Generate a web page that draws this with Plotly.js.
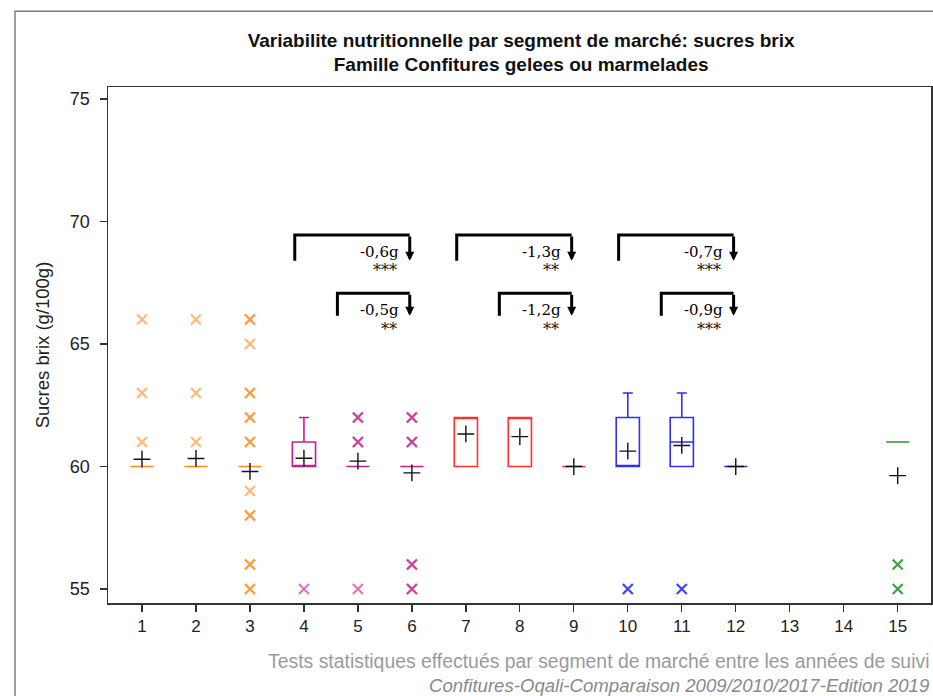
<!DOCTYPE html>
<html>
<head>
<meta charset="utf-8">
<script src="https://cdn.plot.ly/plotly-3.0.1.min.js"></script>
<style>html,body{margin:0;padding:0;background:#fff;}#chart{width:933px;height:696px;}</style>
</head>
<body>
<div id="chart"></div>
<script>
// ---- data ----
const categories = [1,2,3,4,5,6,7,8,9,10,11,12,13,14,15];
const segment    = ['A','A','A','B','B','B','C','C','C','D','D','D',null,null,'E'];
const q1         = [60,60,60,60,60,60,60,60,60,60,60,60,null,null,61];
const median     = [60,60,60,60,60,60,62,62,60,60,61,60,null,null,61];
const q3         = [60,60,60,61,60,60,62,62,60,62,62,60,null,null,61];
const lowerFence = [60,60,60,60,60,60,60,60,60,60,60,60,null,null,61];
const upperFence = [60,60,60,62,60,60,62,62,60,63,63,60,null,null,61];
const means      = [60.3,60.33,59.8,60.34,60.22,59.74,61.33,61.22,60.0,60.63,60.86,60.0,null,null,59.63];

// outliers (repeated values = several products at the same value)
const outlierX = [1,1,1, 2,2,2,
  3,3,3,3,3,3,3,3,3,3,3,3,3,3,3,3,
  4, 5,5,5,5,5, 6,6,6,6,6,6,6,6,
  10, 11, 15,15];
const outlierY = [66,63,61, 66,63,61,
  66,66,65,63,63,62,62,61,61,59,58,58,56,56,55,55,
  55, 62,62,61,61,55, 62,62,61,61,56,56,55,55,
  55, 55, 56,55];

// statistical comparisons between years
const cmpFrom = [4,5,7,8,10,11];
const cmpTo   = [6,6,9,9,12,12];
const cmpDiff = ['-0,6g','-0,5g','-1,3g','-1,2g','-0,7g','-0,9g'];
const cmpSig  = ['***','**','**','**','***','***'];

const xTicks = [1,2,3,4,5,6,7,8,9,10,11,12,13,14,15];
const yTicks = [55,60,65,70,75];

const titleText = 'Variabilite nutritionnelle par segment de marché: sucres brix<br>Famille Confitures gelees ou marmelades';
const yTitle = 'Sucres brix (g/100g)';
const footer1 = 'Tests statistiques effectués par segment de marché entre les années de suivi';
const footer2 = 'Confitures-Oqali-Comparaison 2009/2010/2017-Edition 2019';

// ---- styles ----
const segColor = {A:'#FF8C1A', B:'#C71E8A', C:'#FF3030', D:'#2E2EFF', E:'#2A9A2A'};
const segOpacity = {A:0.6, B:0.6, C:0.9, D:0.9, E:0.9};
const SANS = 'Liberation Sans, Arial, sans-serif';
const SERIF = 'DejaVu Serif, serif';

const traces = [];
Object.keys(segColor).forEach(function(s){
  const idx = categories.map(function(c,i){return i;}).filter(function(i){return segment[i]===s;});
  traces.push({
    type:'box',
    x: idx.map(function(i){return categories[i];}),
    q1: idx.map(function(i){return q1[i];}),
    median: idx.map(function(i){return median[i];}),
    q3: idx.map(function(i){return q3[i];}),
    lowerfence: idx.map(function(i){return lowerFence[i];}),
    upperfence: idx.map(function(i){return upperFence[i];}),
    boxpoints:false,
    width:0.43,
    whiskerwidth:0.43,
    fillcolor:'rgba(255,255,255,0)',
    line:{color:segColor[s], width:1.6},
    hoverinfo:'skip',
    showlegend:false
  });
  const ox = [], oy = [];
  outlierX.forEach(function(x,k){
    if (segment[categories.indexOf(x)]===s){ ox.push(x); oy.push(outlierY[k]); }
  });
  traces.push({
    type:'scatter', mode:'markers', x:ox, y:oy,
    marker:{symbol:'x-thin', size:10, opacity:segOpacity[s], line:{color:segColor[s], width:2.2}},
    hoverinfo:'skip', showlegend:false
  });
});
traces.push({
  type:'scatter', mode:'markers',
  x: categories.filter(function(c,i){return means[i]!==null;}),
  y: means.filter(function(m){return m!==null;}),
  marker:{symbol:'cross-thin', size:12, line:{color:'#111', width:1.4}},
  hoverinfo:'skip', showlegend:false
});

// bracket geometry (style)
const rowTop = [69.45, 67.07];
const rowLow = [68.4, 66.15];
const leftOff = [0.17, 0.38];
const rightOff = 0.04;

const shapes = [];
const annotations = [];
cmpFrom.forEach(function(f,i){
  const r = i % 2;
  const x0 = f - leftOff[r];
  const x1 = cmpTo[i] - rightOff;
  shapes.push({type:'path', xref:'x', yref:'y',
    path:'M'+x0+','+rowLow[r]+' L'+x0+','+rowTop[r]+' L'+x1+','+rowTop[r],
    line:{color:'#000', width:3}});
  annotations.push({xref:'x', yref:'y', axref:'x', ayref:'y',
    x:x1, y:rowLow[r], ax:x1, ay:rowTop[r], text:'', showarrow:true,
    arrowhead:2, arrowsize:0.6, arrowwidth:3, arrowcolor:'#000', standoff:0});
  annotations.push({xref:'x', yref:'y', x:x1, y:rowTop[r], xanchor:'right', yanchor:'middle',
    xshift:-9, yshift:-17, text:cmpDiff[i], showarrow:false,
    font:{family:SERIF, size:15, color:'#000'}});
  annotations.push({xref:'x', yref:'y', x:x1, y:rowTop[r], xanchor:'right', yanchor:'middle',
    xshift:-11, yshift:-36, text:cmpSig[i], showarrow:false,
    font:{family:SERIF, size:16, color:'#111'}});
});

// outer frame
shapes.push({type:'rect', xref:'paper', yref:'paper', x0:-0.113, x1:1.02, y0:-0.2, y1:1.147,
  line:{color:'#7f7f7f', width:1.5}, fillcolor:'rgba(0,0,0,0)', layer:'below'});

annotations.push({xref:'paper', yref:'paper', x:1.0, y:-0.1124, xanchor:'right', yanchor:'middle',
  text:footer1, showarrow:false, font:{family:SANS, size:19.4, color:'#9a9a9a'}});
annotations.push({xref:'paper', yref:'paper', x:1.0, y:-0.159, xanchor:'right', yanchor:'middle',
  text:'<i>'+footer2+'</i>', showarrow:false, font:{family:SANS, size:18.6, color:'#8a8a8a'}});

const layout = {
  width:933, height:696,
  margin:{l:108, r:2, t:87, b:93},
  paper_bgcolor:'#fff', plot_bgcolor:'#fff',
  title:{text:titleText, font:{family:SANS, size:19, color:'#111', weight:'bold'},
    xref:'paper', x:0.502, xanchor:'center', yref:'container', y:0.933, yanchor:'top'},
  showlegend:false,
  xaxis:{range:[0.37,15.617], tickvals:xTicks, ticktext:xTicks.map(String),
    showgrid:false, zeroline:false, showline:true, mirror:true, linecolor:'#333', linewidth:1.5,
    ticks:'outside', ticklen:7, tickwidth:1.3, tickcolor:'#333',
    tickfont:{family:SANS, size:17, color:'#222'}},
  yaxis:{range:[54.43,75.49], tickvals:yTicks, ticktext:yTicks.map(String),
    showgrid:false, zeroline:false, showline:true, mirror:true, linecolor:'#333', linewidth:1.5,
    ticks:'outside', ticklen:7, tickwidth:1.3, tickcolor:'#333', ticklabelstandoff:6,
    tickfont:{family:SANS, size:18, color:'#222'},
    title:{text:yTitle, font:{family:SANS, size:18.5, color:'#222'}, standoff:15}},
  shapes:shapes,
  annotations:annotations
};

Plotly.newPlot('chart', traces, layout, {displayModeBar:false, staticPlot:true});
</script>
</body>
</html>
